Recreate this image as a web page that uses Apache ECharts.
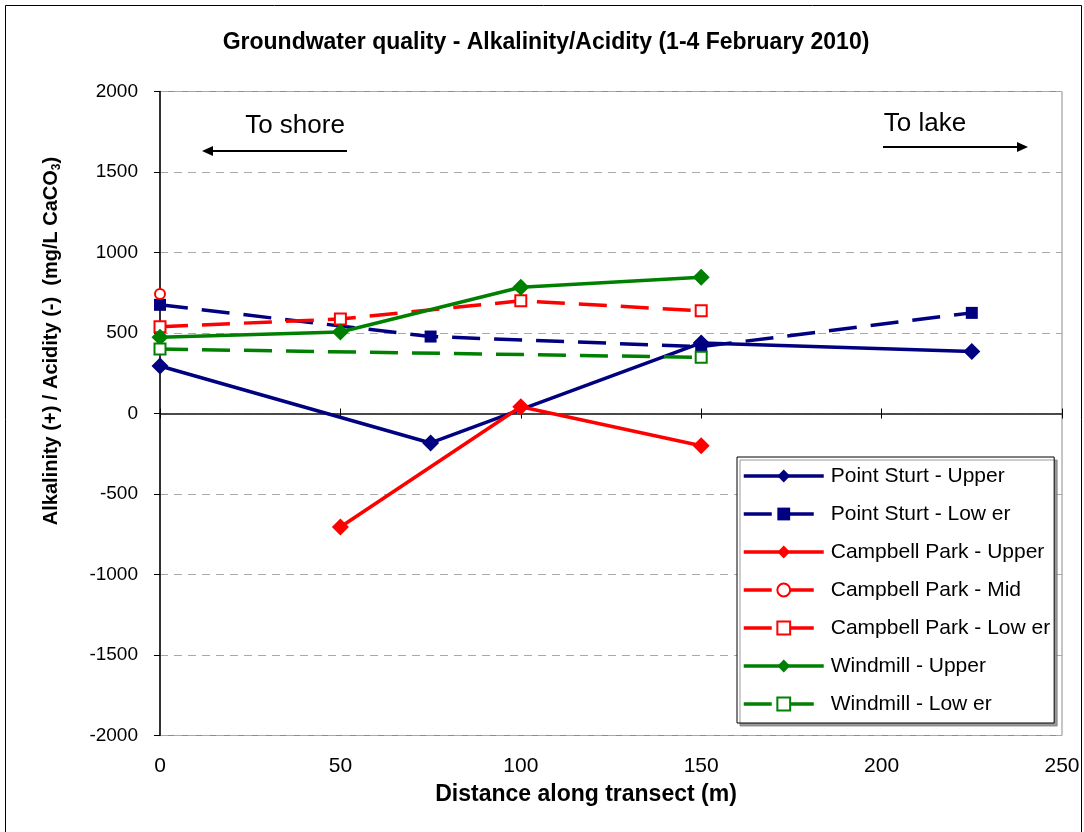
<!DOCTYPE html>
<html>
<head>
<meta charset="utf-8">
<script src="https://cdn.jsdelivr.net/npm/echarts@6/dist/echarts.min.js"></script>
<style>
html,body{margin:0;padding:0;background:#fff;}
#chart{width:1084px;height:832px;}
</style>
</head>
<body>
<div id="chart"></div>
<script>
// ---- data ----
const titleText = 'Groundwater quality - Alkalinity/Acidity (1-4 February 2010)';
const xAxisTitle = 'Distance along transect (m)';
const seriesNames = ['Point Sturt - Upper','Point Sturt - Low er','Campbell Park - Upper','Campbell Park - Mid','Campbell Park - Low er','Windmill - Upper','Windmill - Low er'];

const psUpperX = [0, 75, 150, 225];
const psUpperY = [295, -183, 438, 385];
const psLowerX = [0, 75, 150, 225];
const psLowerY = [675, 478, 415, 625];
const cpUpperX = [50, 100, 150];
const cpUpperY = [-705, 42, -200];
const cpMidX = [0];
const cpMidY = [742];
const cpLowerX = [0, 50, 100, 150];
const cpLowerY = [539, 587, 700, 638];
const wmUpperX = [0, 50, 100, 150];
const wmUpperY = [473, 506, 784, 846];
const wmLowerX = [0, 150];
const wmLowerY = [400, 349];

const yTicks = [-2000, -1500, -1000, -500, 0, 500, 1000, 1500, 2000];
const xTicks = [0, 50, 100, 150, 200, 250];

function pairs(xs, ys){ return xs.map((x,i)=>[x, ys[i]]); }

const NAVY = '#000080', RED = '#ff0000', GREEN = '#008000';
const DASH = [28, 14];

function mk(name, xs, ys, color, dashed, symbol, size, hollow){
  return {
    name: name,
    type: 'line',
    xAxisIndex: 0,
    data: pairs(xs, ys),
    symbol: symbol,
    symbolSize: size,
    showAllSymbol: true,
    lineStyle: {color: color, width: 3.5, type: dashed ? DASH : 'solid'},
    itemStyle: hollow ? {color: '#ffffff', borderColor: color, borderWidth: 2} : {color: color, borderColor: color, borderWidth: 0},
    emphasis: {disabled: true},
    animation: false
  };
}

const series = [
  mk(seriesNames[0], psUpperX, psUpperY, NAVY, false, 'diamond', 17, false),
  mk(seriesNames[1], psLowerX, psLowerY, NAVY, true, 'rect', 12, false),
  mk(seriesNames[2], cpUpperX, cpUpperY, RED, false, 'diamond', 17, false),
  mk(seriesNames[3], cpMidX, cpMidY, RED, true, 'circle', 10, true),
  mk(seriesNames[4], cpLowerX, cpLowerY, RED, true, 'rect', 11, true),
  mk(seriesNames[5], wmUpperX, wmUpperY, GREEN, false, 'diamond', 17, false),
  mk(seriesNames[6], wmLowerX, wmLowerY, GREEN, true, 'rect', 11, true)
];

const FONT = '"Liberation Sans", Arial, sans-serif';
const chart = echarts.init(document.getElementById('chart'), null, {renderer: 'canvas'});

const baseX = {
  type: 'value', min: xTicks[0], max: xTicks[xTicks.length-1], interval: 50,
  splitLine: {show: false}
};

chart.setOption({
  backgroundColor: '#ffffff',
  animation: false,
  textStyle: {fontFamily: FONT},
  grid: {
    left: 160, right: 22, top: 91.5, bottom: 96.5,
    show: true, borderColor: '#8c8c8c', borderWidth: 1,
    outerBoundsMode: 'none', containLabel: false
  },
  xAxis: [
    Object.assign({}, baseX, {
      position: 'bottom',
      axisLine: {show: false, onZero: false},
      axisTick: {show: false},
      axisLabel: {show: true, margin: 20, color: '#000', fontSize: 21, fontFamily: FONT, formatter: v => String(v)}
    }),
    Object.assign({}, baseX, {
      position: 'bottom',
      axisLine: {show: true, onZero: true, onZeroAxisIndex: 0, lineStyle: {color: '#404040', width: 1.5}},
      axisTick: {show: true, inside: true, length: 5, lineStyle: {color: '#000', width: 1}},
      axisLabel: {show: false}
    }),
    Object.assign({}, baseX, {
      position: 'bottom',
      axisLine: {show: true, onZero: true, onZeroAxisIndex: 0, lineStyle: {color: '#404040', width: 1.5}},
      axisTick: {show: true, inside: false, length: 5, lineStyle: {color: '#000', width: 1}},
      axisLabel: {show: false}
    })
  ],
  yAxis: {
    type: 'value', min: yTicks[0], max: yTicks[yTicks.length-1], interval: 500,
    position: 'left',
    axisLine: {show: true, onZero: false, lineStyle: {color: '#000', width: 1.5}},
    axisTick: {show: true, inside: false, length: 6, lineStyle: {color: '#000'}},
    axisLabel: {margin: 22, color: '#000', fontSize: 19, fontFamily: FONT, formatter: v => String(v)},
    splitLine: {show: true, lineStyle: {color: '#a8a8a8', width: 1, type: [8, 6]}}
  },
  legend: {
    orient: 'vertical',
    left: 737, top: 457,
    padding: [7, 4, 7, 5],
    itemWidth: 80, itemHeight: 16, itemGap: 14,
    selectedMode: false,
    backgroundColor: '#ffffff',
    borderColor: '#000', borderWidth: 1,
    shadowColor: 'rgba(128,128,128,0.8)', shadowOffsetX: 3, shadowOffsetY: 3, shadowBlur: 0,
    lineStyle: {width: 'inherit', type: 'inherit'},
    textStyle: {color: '#000', fontSize: 21, fontFamily: FONT, lineHeight: 24, padding: [0,0,0,2]},
    data: seriesNames
  },
  series: series,
  graphic: [
    {type: 'rect', shape: {x: 5.5, y: 5.5, width: 1076, height: 830}, style: {fill: 'none', stroke: '#000', lineWidth: 1}, silent: true, z: 100},
    {type: 'text', x: 546, y: 43, style: {text: titleText, fill: '#000', font: 'bold 23px ' + FONT, align: 'center', verticalAlign: 'middle'}},
    {type: 'text', x: 586, y: 795, style: {text: xAxisTitle, fill: '#000', font: 'bold 23px ' + FONT, align: 'center', verticalAlign: 'middle'}},
    {type: 'text', x: 51, y: 341, rotation: Math.PI/2,
      style: {
        text: '{a|Alkalinity (+) / Acidity (-)  (mg/L CaCO}{s|3}{a|)}',
        align: 'center', verticalAlign: 'middle',
        rich: {
          a: {font: 'bold 20px ' + FONT, fill: '#000', lineHeight: 24},
          s: {font: 'bold 12px ' + FONT, fill: '#000', lineHeight: 24, verticalAlign: 'bottom', padding: [9,0,0,0]}
        }
      }},
    {type: 'text', x: 295, y: 126, style: {text: 'To shore', fill: '#000', font: '26px ' + FONT, align: 'center', verticalAlign: 'middle'}},
    {type: 'line', shape: {x1: 347, y1: 151, x2: 210, y2: 151}, style: {stroke: '#000', lineWidth: 2}},
    {type: 'polygon', shape: {points: [[202,151],[213,146],[213,156]]}, style: {fill: '#000'}},
    {type: 'text', x: 925, y: 124, style: {text: 'To lake', fill: '#000', font: '26px ' + FONT, align: 'center', verticalAlign: 'middle'}},
    {type: 'line', shape: {x1: 883, y1: 147, x2: 1020, y2: 147}, style: {stroke: '#000', lineWidth: 2}},
    {type: 'polygon', shape: {points: [[1028,147],[1017,142],[1017,152]]}, style: {fill: '#000'}}
  ]
});
</script>
</body>
</html>
